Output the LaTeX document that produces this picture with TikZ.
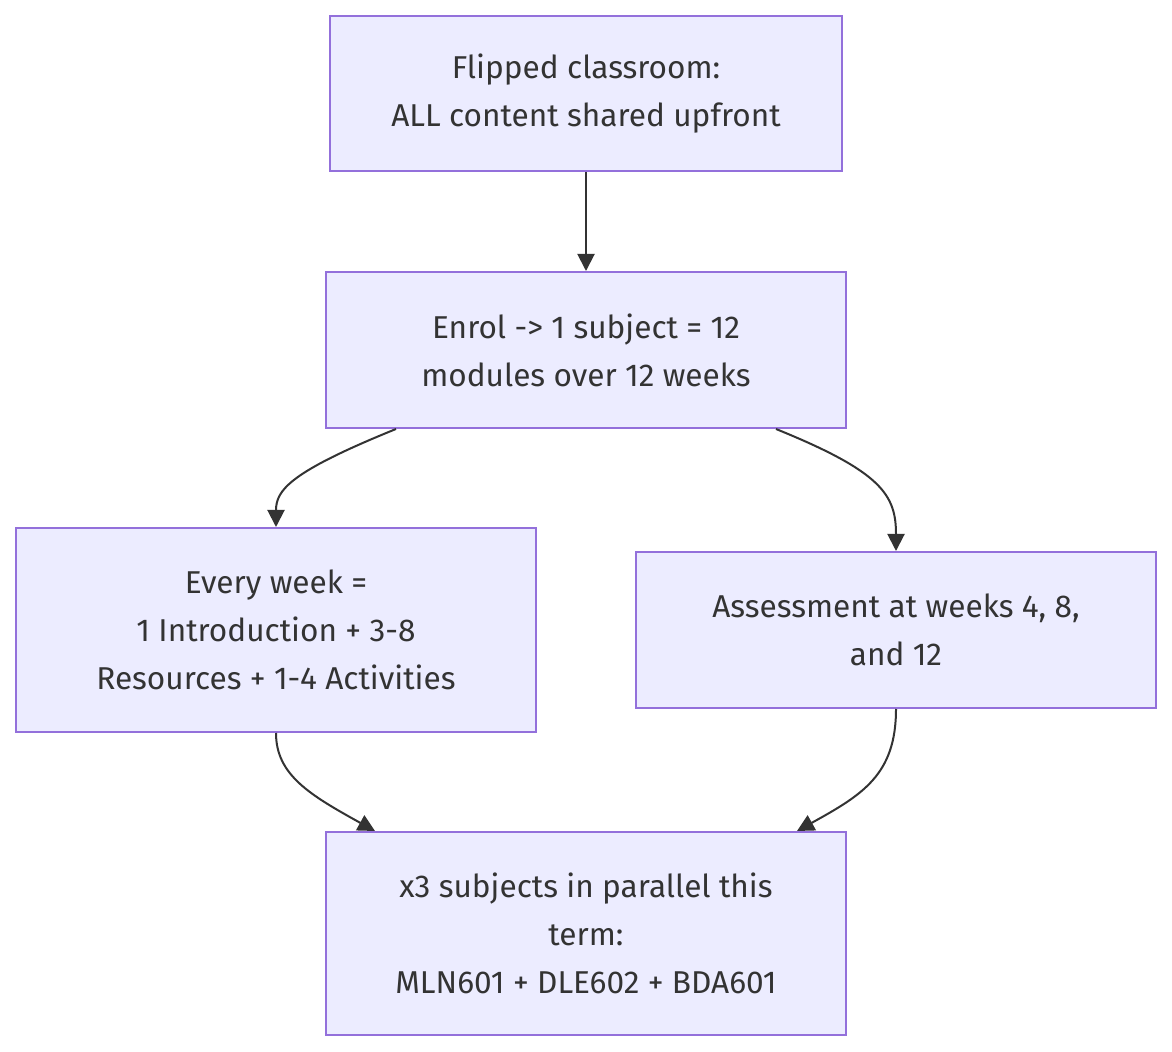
\documentclass[tikz,border=0pt]{standalone}
\usepackage{fontspec}
\setmainfont{Fira Sans}
\usepackage{xcolor}
\usepackage{tikz}
\usetikzlibrary{arrows.meta,calc}
\definecolor{boxfill}{HTML}{ECECFF}
\definecolor{boxline}{HTML}{9370DB}
\definecolor{ink}{HTML}{333333}
\tikzset{
  box/.style={rectangle, fill=boxfill, draw=boxline, line width=1pt, text=ink, align=center,
    font=\fontsize{15.8}{24}\selectfont, inner sep=0pt},
  arr/.style={draw=ink, line width=1pt, -{Triangle[length=8.5pt,width=8.5pt]}},
  flow/.style={x=0.5pt, y=-0.5pt}
}

\begin{document}
\begin{tikzpicture}[flow]
  \useasboundingbox (0,0) rectangle (1172,1052);
  \node[box, minimum width=256pt, minimum height=77.5pt] (top) at (586,93.5) {Flipped classroom:\\ALL content shared upfront};
  \node[box, minimum width=260pt, minimum height=78pt] (enrol) at (586,350) {Enrol -> 1 subject = 12\\modules over 12 weeks};
  \node[box, minimum width=260pt, minimum height=102pt] (week) at (276,630) {Every week =\\1 Introduction + 3-8\\Resources + 1-4 Activities};
  \node[box, minimum width=260pt, minimum height=78pt] (assess) at (896,630) {Assessment at weeks 4, 8,\\and 12};
  \node[box, minimum width=260pt, minimum height=101.5pt] (term) at (586,933.5) {x3 subjects in parallel this\\term:\\MLN601 + DLE602 + BDA601};
  \draw[arr] (top) -- (enrol);
  \draw[arr] ([xshift=35.5pt]enrol.south west) .. controls (290,472) and (276,490) .. (week.north);
  \draw[arr] ([xshift=-35.5pt]enrol.south east) .. controls (882,472) and (896,495) .. (assess.north);
  \draw[arr] (week.south) .. controls (276,775) and (310,795) .. ([xshift=25pt]term.north west);
  \draw[arr] (assess.south) .. controls (896,775) and (862,795) .. ([xshift=-25pt]term.north east);
\end{tikzpicture}
\end{document}
